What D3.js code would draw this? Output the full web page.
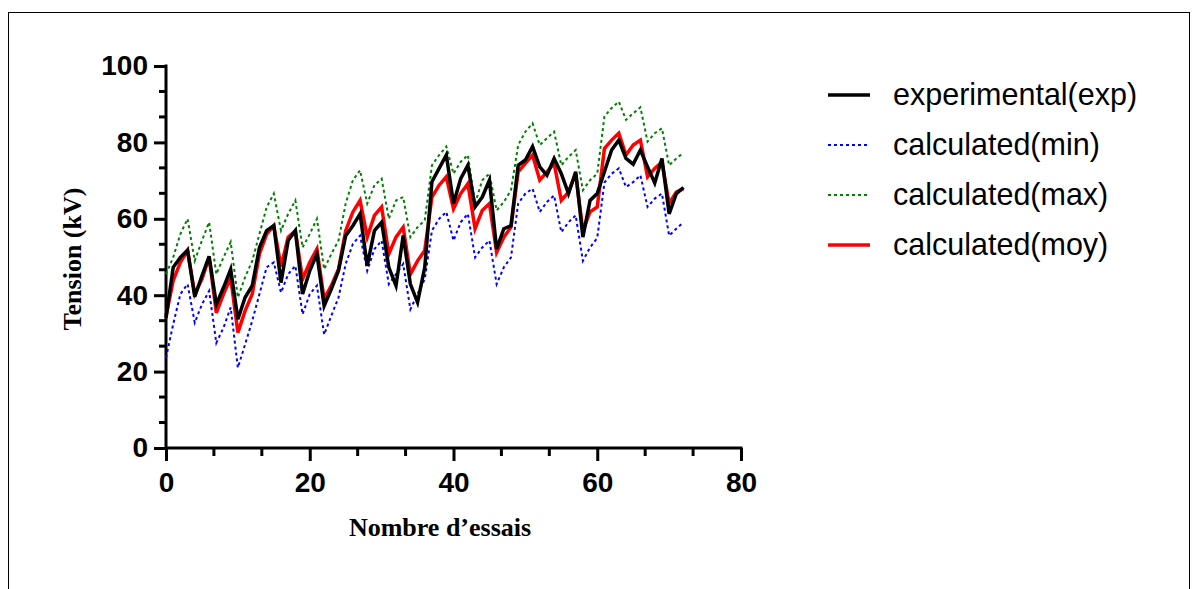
<!DOCTYPE html>
<html>
<head>
<meta charset="utf-8">
<script src="https://cdn.jsdelivr.net/npm/d3@7"></script>
<style>
  body { margin: 0; background: #fff; }
</style>
</head>
<body>
<div id="chart"></div>
<script>
// values
var seriesNames = ["experimental(exp)", "calculated(min)", "calculated(max)", "calculated(moy)"];

var expVals = [34, 47.3, 49.9, 51.8, 39.6, 45.1, 50.2, 37.6, 42, 46.8, 33.7, 39.4, 42.5, 52.5, 56.9,
  58.2, 43.3, 54.3, 56.9, 40.3, 46.4, 50.8, 37.2, 41.6, 46.4, 55.6, 58.2, 61.3, 47.7, 56.9,
  59.1, 47.3, 42.5, 55.6, 42.9, 38.1, 47.3, 69.7, 73.2, 76.7, 64, 70.5, 74, 63.1, 65.7,
  70.1, 52.1, 57.4, 58.2, 74, 75.4, 78.9, 73.6, 71.4, 75.8, 71.8, 66.6, 72.3, 55.2, 64.8,
  66.6, 72.3, 78, 80.6, 75.8, 74.3, 78, 73.6, 69.4, 75.8, 61.3, 66.6, 68.2];

var minVals = [23.6, 32.4, 40.3, 42.9, 32.8, 37.6, 41.1, 27.5, 31.5, 36.8, 21, 27.1, 33.3, 40.3, 47.3,
  48.6, 40.7, 45.5, 47.7, 35, 40.3, 42.5, 29.7, 34.6, 39.4, 48.2, 53.4, 55.6, 46.4, 52.1,
  54.3, 42.9, 45.5, 48.2, 36.3, 40.3, 44.2, 56.9, 60, 61.8, 54.3, 59.1, 61.3, 49.9, 52.5,
  54.3, 42.9, 47.3, 49.9, 64, 66.6, 67.9, 61.8, 64.4, 66.1, 56.5, 59.1, 60.9, 49, 52.5,
  55, 69.5, 71.8, 73.2, 68.3, 69.6, 71.4, 63.1, 65.3, 66.6, 55.6, 57.4, 59.1];

var maxVals = [45.5, 49.9, 56, 60, 49, 54.3, 59.1, 45.5, 49.9, 53.9, 39.4, 44.7, 49, 56, 63,
  66.6, 56.9, 61.3, 64.8, 52.5, 56, 60, 46.8, 50.8, 54.3, 64, 70.1, 72.7, 64, 68.8,
  70.5, 60, 64.8, 65.7, 55.2, 57.8, 59.6, 74, 76.7, 78.9, 71.8, 74.9, 76.7, 64, 70.1,
  71.8, 62.2, 64.4, 67.5, 79.3, 82.8, 85, 79.3, 81.1, 82.8, 74, 76.2, 78, 67.5, 70.1,
  71.8, 86.8, 89, 90.7, 85.9, 87.6, 89.2, 80.2, 82.4, 83.7, 74, 75.8, 77.3];

var moyVals = [34.5, 43.8, 48.6, 51.7, 40.3, 44.2, 49.9, 35.4, 40.3, 44.6, 30.2, 35.9, 40.3, 50.8, 56,
  58.2, 47.5, 55.2, 56.9, 44.2, 48.6, 52.1, 39, 42.5, 46.8, 56.9, 61.8, 64.8, 55.2, 60.9,
  63.1, 50.8, 55.2, 57.8, 45.5, 49, 51.7, 65.7, 68.8, 71, 62.6, 66.6, 69.2, 57.4, 62.2,
  64, 51.2, 55.2, 57.8, 72.3, 74.5, 76.7, 70.1, 72.3, 74.5, 64.8, 67, 71.8, 56.9, 61.8,
  63.1, 78.4, 80.6, 82.4, 76.7, 79.3, 80.6, 71, 73.2, 74.9, 64, 67, 67.9];

var xTicks = [0, 20, 40, 60, 80];
var yTicks = [0, 20, 40, 60, 80, 100];

(function() {
  var width = 1194, height = 589;

  var svg = d3.select("#chart")
    .append("svg")
    .attr("width", width)
    .attr("height", height);

  // outer frame
  svg.append("rect")
    .attr("x", 8.5).attr("y", 12.5)
    .attr("width", 1181).attr("height", 600)
    .attr("fill", "none")
    .attr("stroke", "#000")
    .attr("stroke-width", 1);

  var x = d3.scaleLinear().domain([0, 80]).range([166, 741]);
  var y = d3.scaleLinear().domain([0, 100]).range([448, 66]);

  var minorX = d3.range(0, 81, 20 / 3);
  var minorY = d3.range(0, 101, 20 / 3);

  // y axis
  var yAxis = d3.axisLeft(y).tickValues(yTicks).tickSize(12).tickPadding(6).tickFormat(d3.format("d"));
  var gy = svg.append("g").attr("transform", "translate(" + x(0) + ",0)").call(yAxis);
  gy.select(".domain").remove();
  gy.selectAll("line").attr("stroke", "#000").attr("stroke-width", 3);
  gy.selectAll("text")
    .attr("font-family", "Liberation Sans, Arial, sans-serif")
    .attr("font-weight", "bold")
    .attr("font-size", 28)
    .attr("fill", "#000");

  svg.append("g").selectAll("line")
    .data(minorY.filter(function(v) { return Math.abs(v / 20 - Math.round(v / 20)) > 0.01; }))
    .enter().append("line")
    .attr("x1", x(0) - 7).attr("x2", x(0))
    .attr("y1", function(d) { return y(d); })
    .attr("y2", function(d) { return y(d); })
    .attr("stroke", "#000").attr("stroke-width", 3);

  // x axis
  var xAxis = d3.axisBottom(x).tickValues(xTicks).tickSize(13).tickPadding(11).tickFormat(d3.format("d"));
  var gx = svg.append("g").attr("transform", "translate(0," + y(0) + ")").call(xAxis);
  gx.select(".domain").remove();
  gx.selectAll("line").attr("stroke", "#000").attr("stroke-width", 3);
  gx.selectAll("text")
    .attr("font-family", "Liberation Sans, Arial, sans-serif")
    .attr("font-weight", "bold")
    .attr("font-size", 28)
    .attr("fill", "#000");

  svg.append("g").selectAll("line")
    .data(minorX.filter(function(v) { return Math.abs(v / 20 - Math.round(v / 20)) > 0.01; }))
    .enter().append("line")
    .attr("x1", function(d) { return x(d); })
    .attr("x2", function(d) { return x(d); })
    .attr("y1", y(0)).attr("y2", y(0) + 8)
    .attr("stroke", "#000").attr("stroke-width", 3);

  // axis lines
  svg.append("line")
    .attr("x1", x(0)).attr("x2", x(0))
    .attr("y1", y(100) - 1.5).attr("y2", y(0))
    .attr("stroke", "#000").attr("stroke-width", 3);
  svg.append("line")
    .attr("x1", x(0)).attr("x2", x(80) + 1.5)
    .attr("y1", y(0)).attr("y2", y(0))
    .attr("stroke", "#000").attr("stroke-width", 3);

  // axis titles
  svg.append("text")
    .attr("transform", "translate(81,259) rotate(-90)")
    .attr("text-anchor", "middle")
    .attr("font-family", "Liberation Serif, Times New Roman, serif")
    .attr("font-weight", "bold")
    .attr("font-size", 26)
    .text("Tension (kV)");

  svg.append("text")
    .attr("x", 440).attr("y", 536)
    .attr("text-anchor", "middle")
    .attr("font-family", "Liberation Serif, Times New Roman, serif")
    .attr("font-weight", "bold")
    .attr("font-size", 26)
    .text("Nombre d\u2019essais");

  // series
  var series = [
    { name: seriesNames[1], values: minVals, color: "#0000ff", width: 2, dash: "3,3" },
    { name: seriesNames[2], values: maxVals, color: "#008000", width: 2, dash: "3,3" },
    { name: seriesNames[3], values: moyVals, color: "#ff0000", width: 3.5, dash: null },
    { name: seriesNames[0], values: expVals, color: "#000000", width: 3.5, dash: null }
  ];

  var line = d3.line()
    .x(function(d, i) { return x(i); })
    .y(function(d) { return y(d); });

  svg.append("g").selectAll("path")
    .data(series)
    .enter().append("path")
    .attr("d", function(s) { return line(s.values); })
    .attr("fill", "none")
    .attr("stroke", function(s) { return s.color; })
    .attr("stroke-width", function(s) { return s.width; })
    .attr("stroke-dasharray", function(s) { return s.dash; })
    .attr("stroke-linejoin", "miter");

  // legend
  var legendOrder = [series[3], series[0], series[1], series[2]];
  var leg = svg.append("g").selectAll("g")
    .data(legendOrder)
    .enter().append("g")
    .attr("transform", function(d, i) { return "translate(828," + (95 + i * 50) + ")"; });

  leg.append("line")
    .attr("x1", 0).attr("x2", 42)
    .attr("y1", 0).attr("y2", 0)
    .attr("stroke", function(d) { return d.color; })
    .attr("stroke-width", function(d) { return d.width; })
    .attr("stroke-dasharray", function(d) { return d.dash; });

  leg.append("text")
    .attr("x", 65).attr("y", 10)
    .attr("font-family", "Liberation Sans, Arial, sans-serif")
    .attr("font-size", 30.5)
    .attr("fill", "#000")
    .text(function(d) { return d.name; });
})();
</script>
</body>
</html>
